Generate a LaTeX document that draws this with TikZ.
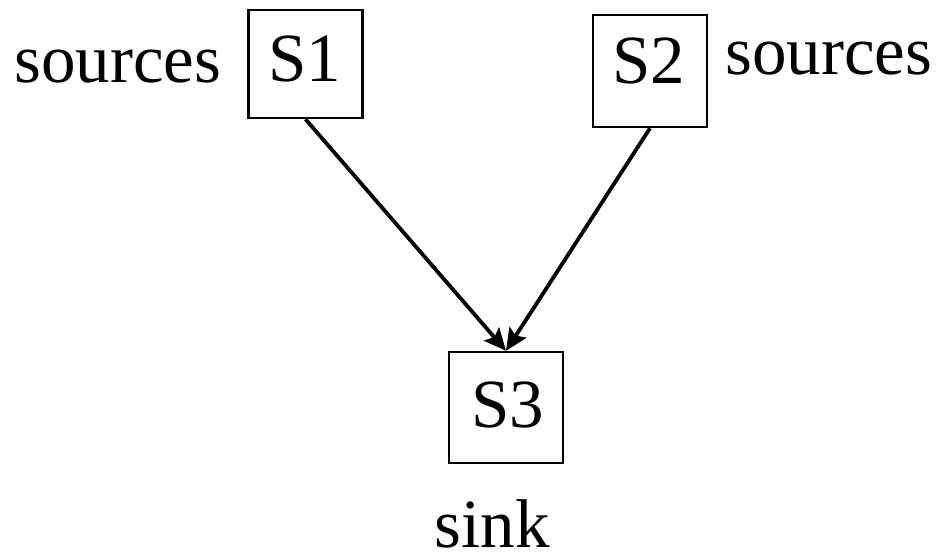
\documentclass[tikz,border=0pt]{standalone}
\usepackage{fontspec}
\setmainfont{Liberation Serif}
\usetikzlibrary{arrows.meta}
\begin{document}
\begin{tikzpicture}[x=1pt,y=1pt,
  every node/.style={font=\fontsize{69}{80}\selectfont, inner sep=0pt},
  boxnode/.style={draw, line width=2.4pt, minimum width=114pt},
  txt/.style={anchor=base},
  flow/.style={line width=3.8pt, -{Stealth[length=22pt,width=20pt,inset=4pt]}}]
  \useasboundingbox (0,0) rectangle (951,-556);
  % the three stations
  \node[boxnode, minimum height=108pt] (s1) at (305.5,-64) {};
  \node[boxnode, minimum height=112pt] (s2) at (650,-71) {};
  \node[boxnode, minimum height=111pt] (s3) at (506,-407.5) {};
  \node[txt] (s1t) at (305,-82) {S1};
  \node[txt] (s2t) at (648.5,-84) {S2};
  \node[txt] (s3t) at (507.5,-427) {S3};
  % role labels
  \node[txt] (src1) at (118,-83) {sources};
  \node[txt] (src2) at (829,-75) {sources};
  \node[txt] (snk) at (492,-547) {sink};
  % flows into the sink
  \draw[flow] (s1.south) -- (s3.north);
  \draw[flow] (s2.south) -- (s3.north);
\end{tikzpicture}
\end{document}
